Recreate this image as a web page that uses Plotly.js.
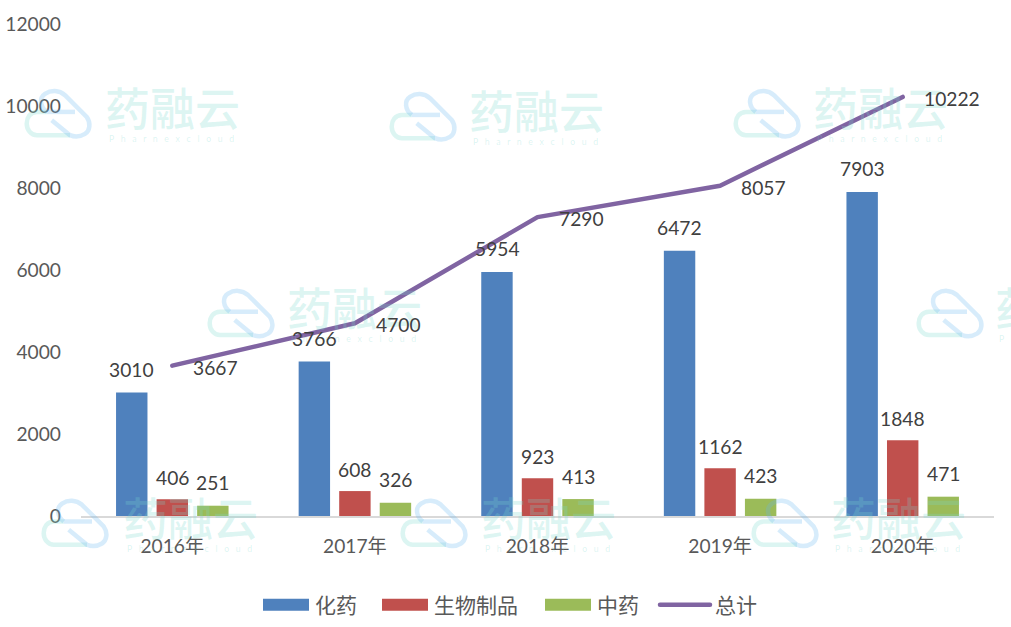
<!DOCTYPE html>
<html><head><meta charset="utf-8">
<script src="https://cdn.plot.ly/plotly-3.0.1.min.js"></script>
<style>html,body{margin:0;padding:0;background:#fff}#c{width:1011px;height:627px}</style>
</head><body><div id="c"></div>
<script>
const categories = ['2016年','2017年','2018年','2019年','2020年'];
const chem = [3010,3766,5954,6472,7903];
const bio = [406,608,923,1162,1848];
const tcm = [251,326,413,423,471];
const total = [3667,4700,7290,8057,10222];
const yTicks = [0,2000,4000,6000,8000,10000,12000];
const names = ['化药','生物制品','中药','总计'];
const colors = ['#4f81bd','#c0504d','#9bbb59','#8064a2'];
const W=1011,H=627,L=81,R=994,T=24,B=516.5;
const FONT='Lato, "Noto Sans CJK SC", sans-serif';
const CJK='"Noto Sans CJK SC", sans-serif';
const textCol='#404040', tickCol='#595959';
const px=x=>(x-L)/(R-L), py=y=>(B-y)/(B-T);

const barBase={type:'bar',x:categories,hoverinfo:'skip'};
const data=[
 {...barBase,name:names[0],y:chem,marker:{color:colors[0]}},
 {...barBase,name:names[1],y:bio,marker:{color:colors[1]}},
 {...barBase,name:names[2],y:tcm,marker:{color:colors[2]}},
 {type:'scatter',mode:'lines',name:names[3],x:categories,y:total,line:{color:colors[3],width:4.5,shape:'linear'},hoverinfo:'skip'}
];

// watermark
const TEAL='rgba(120,215,205,0.26)', BLUE='rgba(100,180,240,0.26)';
const wm=[[25,90,106],[390,93,470],[734,90,814],[208,290,288],[917,290,996],[42,500,124],[401,500,482],[752,500,832]];
const shapes=[],ann=[];
wm.forEach(([cx,cy,tx])=>{
  const P=(pts)=>pts.map(s=>{
    let out=s[0],c=s.slice(1);
    for(let i=0;i<c.length;i+=2){out+=(i?' ':'')+px(cx+c[i])+','+py(cy+c[i+1]);}
    return out;
  }).join(' ');
  const teal=P([['M',21.7,22],['L',12,22],['C',5,22,1.7,28,1.7,33.5],['C',1.7,40,6,45.3,12,45.3],['L',45,45.3]]);
  const blue=P([['M',21.7,22],['C',15,17,14,8,20,4],['C',26,0,34,0,40,5.3],['L',61.7,27],['C',66,33,65,41,60,44],['C',55,47,49,47,45,45.3],['L',26.7,30.3]]);
  const blue2=P([['M',21.7,22],['L',50,22]]);
  shapes.push({type:'path',xref:'paper',yref:'paper',layer:'above',path:teal,line:{color:TEAL,width:4.5}});
  shapes.push({type:'path',xref:'paper',yref:'paper',layer:'above',path:blue,line:{color:BLUE,width:4.5}});
  shapes.push({type:'path',xref:'paper',yref:'paper',layer:'above',path:blue2,line:{color:BLUE,width:4.5}});
  ann.push({xref:'paper',yref:'paper',x:px(tx-3),y:py(cy+17),xanchor:'left',yanchor:'middle',showarrow:false,
    text:'药融云',font:{family:CJK,size:45,weight:500,color:TEAL}});
  ann.push({xref:'paper',yref:'paper',x:px(tx+1),y:py(cy+49),xanchor:'left',yanchor:'middle',showarrow:false,
    text:'Pharnexcloud'.split('').join('\u00a0\u00a0\u00a0'),font:{family:FONT,size:8.7,color:TEAL}});
});

// data labels
const lab=(x,y,xs,ys,xa)=>({xref:'x',yref:'y',x,y,text:String(y),showarrow:false,xanchor:xa||'center',yanchor:'middle',
  xshift:xs,yshift:ys,font:{family:FONT,size:19.2,color:textCol}});
categories.forEach((c,i)=>{
  ann.push(lab(c,chem[i],-40.5,23));
  ann.push(lab(c,bio[i],0,22));
  ann.push(lab(c,tcm[i],40.5,23));
  ann.push(lab(c,total[i],19,-1.5,'left'));
});

const layout={
  width:W,height:H,paper_bgcolor:'#fff',plot_bgcolor:'rgba(0,0,0,0)',
  margin:{l:L,r:W-R,t:T,b:H-B,pad:0},
  barmode:'group',bargap:0.334,bargroupgap:0.225,
  font:{family:FONT,size:19.2,color:tickCol},
  showlegend:true,
  legend:{orientation:'h',x:255/W,xref:'container',xanchor:'left',y:1-605/H,yref:'container',yanchor:'middle',
    itemwidth:50,font:{family:CJK,size:21,color:tickCol},traceorder:'normal',itemclick:false,itemdoubleclick:false},
  xaxis:{type:'category',categoryorder:'array',categoryarray:categories,showgrid:false,zeroline:false,showline:true,
    linecolor:'#d9d9d9',linewidth:2,ticks:'',ticklabelstandoff:12,tickfont:{family:FONT,size:19.2,color:tickCol},fixedrange:true},
  yaxis:{range:[0,12000],tickmode:'array',tickvals:yTicks,ticktext:yTicks.map(String),showgrid:false,zeroline:false,showline:false,
    ticks:'',ticklabelstandoff:19,tickfont:{family:FONT,size:19.2,color:tickCol},fixedrange:true},
  shapes,annotations:ann
};

const legendOffsets=[0,119,282,400];
function polish(){
  const leg=document.querySelector('.legend');
  if(!leg)return;
  const sb=leg.querySelector('.scrollbox');
  if(sb)sb.removeAttribute('clip-path');
  leg.removeAttribute('clip-path');
  leg.querySelectorAll('.traces').forEach((t,i)=>{
    const m=/translate\(\s*[-\d.]+\s*[, ]\s*([-\d.]+)/.exec(t.getAttribute('transform')||'');
    t.setAttribute('transform','translate('+legendOffsets[i]+','+(m?m[1]:0)+')');
  });
  leg.querySelectorAll('.legendpoints path').forEach(p=>p.setAttribute('d','M-22,6H24V-6H-22Z'));
  document.querySelectorAll('.legendlines path, .scatterlayer .js-line').forEach(p=>{
    p.style.strokeLinecap='round';p.style.strokeLinejoin='round';
  });
}
Plotly.newPlot('c',data,layout,{displayModeBar:false}).then(gd=>{
  polish();
  gd.on('plotly_afterplot',polish);
  setTimeout(polish,50);setTimeout(polish,300);
});
</script></body></html>
